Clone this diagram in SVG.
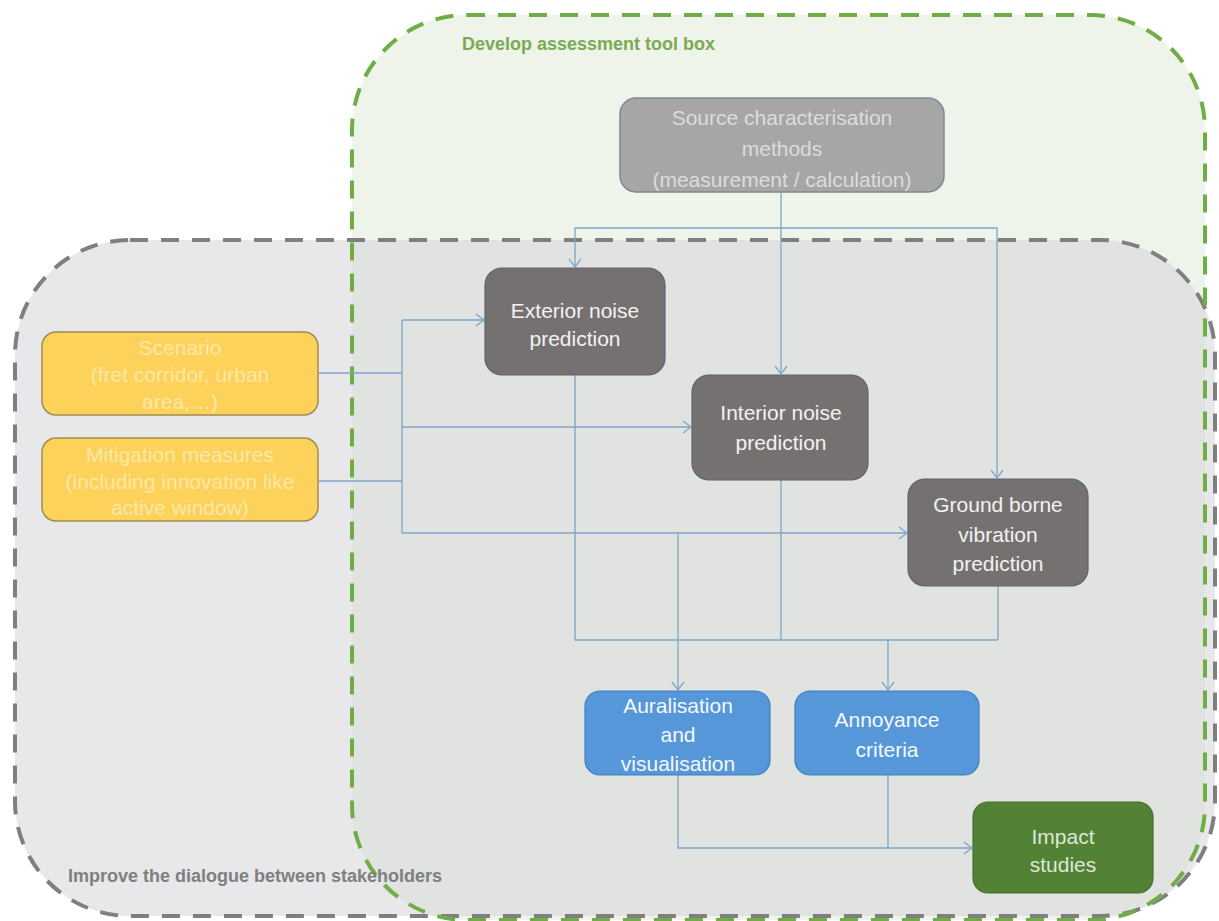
<svg xmlns="http://www.w3.org/2000/svg" width="1219" height="921" viewBox="0 0 1219 921">
<style>
.lbl{font-family:"Liberation Sans",Arial,sans-serif;font-size:21px;text-anchor:middle}
.ttl{font-family:"Liberation Sans",Arial,sans-serif;font-size:18px;font-weight:bold}
.con{fill:none;stroke:#7fa6ca;stroke-width:1.3}
</style>
<defs>
<marker id="arr" markerUnits="userSpaceOnUse" markerWidth="12" markerHeight="14" refX="9" refY="7" orient="auto">
<path d="M1,1 L9,7 L1,13" fill="none" stroke="#7fa6ca" stroke-width="1.3"/>
</marker>
</defs>
<rect width="1219" height="921" fill="#ffffff"/>
<g id="areas">
<rect x="352" y="15" width="853" height="905" rx="115" fill="#eef4ea"/>
<rect x="15" y="240" width="1200" height="676" rx="115" fill="#d1d1d5" fill-opacity="0.5"/>
<rect x="15" y="240" width="1200" height="676" rx="115" fill="none" stroke="#7f7f7f" stroke-width="4" stroke-dasharray="18 13"/>
<rect x="352" y="15" width="853" height="905" rx="115" fill="none" stroke="#70ad47" stroke-width="4" stroke-dasharray="18 13"/>
<text class="ttl" x="462" y="50" fill="#7aab52">Develop assessment tool box</text>
<text class="ttl" x="68" y="882" fill="#7f7f7f">Improve the dialogue between stakeholders</text>
</g>
<g id="connectors">
<path class="con" d="M781,193 V374" marker-end="url(#arr)"/>
<path class="con" d="M781,228 H575 V267" marker-end="url(#arr)"/>
<path class="con" d="M781,228 H997 V478" marker-end="url(#arr)"/>
<path class="con" d="M319,373 H402"/>
<path class="con" d="M319,481 H402"/>
<path class="con" d="M402,320 V533"/>
<path class="con" d="M402,320 H484" marker-end="url(#arr)"/>
<path class="con" d="M402,427 H691" marker-end="url(#arr)"/>
<path class="con" d="M402,533 H907" marker-end="url(#arr)"/>
<path class="con" d="M678,533 V690" marker-end="url(#arr)"/>
<path class="con" d="M575,375 V640 H998"/>
<path class="con" d="M781,480 V640"/>
<path class="con" d="M998,586 V640"/>
<path class="con" d="M888,640 V690" marker-end="url(#arr)"/>
<path class="con" d="M678,775 V848 H972" marker-end="url(#arr)"/>
<path class="con" d="M888,775 V848"/>
</g>
<g id="source">
<rect x="620" y="98" width="324" height="94" rx="16" fill="#a6a6a6" stroke="#7d8898" stroke-width="1.5"/>
<text class="lbl" x="782" y="125" fill="#dcdcdc">Source characterisation</text>
<text class="lbl" x="782" y="156" fill="#dcdcdc">methods</text>
<text class="lbl" x="782" y="187" fill="#dcdcdc">(measurement / calculation)</text>
</g>
<g id="scenario">
<rect x="42" y="332" width="276" height="83" rx="14" fill="#fdd25a" stroke="#a08c52" stroke-width="1.5"/>
<text class="lbl" x="180" y="355" fill="#fbe8a8">Scenario</text>
<text class="lbl" x="180" y="382" fill="#fbe8a8">(fret corridor, urban</text>
<text class="lbl" x="180" y="409" fill="#fbe8a8">area,…)</text>
</g>
<g id="mitigation">
<rect x="42" y="438" width="276" height="83" rx="14" fill="#fdd25a" stroke="#a08c52" stroke-width="1.5"/>
<text class="lbl" x="180" y="462" fill="#fbe8a8">Mitigation measures</text>
<text class="lbl" x="180" y="489" fill="#fbe8a8">(including innovation like</text>
<text class="lbl" x="180" y="515" fill="#fbe8a8">active window)</text>
</g>
<g id="exterior">
<rect x="485" y="268" width="180" height="107" rx="17" fill="#767171" stroke="#5e6470" stroke-width="1.2"/>
<text class="lbl" x="575" y="318" fill="#f2f2f2">Exterior noise</text>
<text class="lbl" x="575" y="346" fill="#f2f2f2">prediction</text>
</g>
<g id="interior">
<rect x="692" y="375" width="176" height="105" rx="17" fill="#767171" stroke="#5e6470" stroke-width="1.2"/>
<text class="lbl" x="781" y="420" fill="#f2f2f2">Interior noise</text>
<text class="lbl" x="781" y="450" fill="#f2f2f2">prediction</text>
</g>
<g id="ground">
<rect x="908" y="479" width="180" height="107" rx="17" fill="#767171" stroke="#5e6470" stroke-width="1.2"/>
<text class="lbl" x="998" y="512" fill="#f2f2f2">Ground borne</text>
<text class="lbl" x="998" y="542" fill="#f2f2f2">vibration</text>
<text class="lbl" x="998" y="571" fill="#f2f2f2">prediction</text>
</g>
<g id="auralisation">
<rect x="585" y="691" width="185" height="84" rx="15" fill="#5597d8" stroke="#3f7fc0" stroke-width="1.2"/>
<text class="lbl" x="678" y="713" fill="#f5f8fc">Auralisation</text>
<text class="lbl" x="678" y="742" fill="#f5f8fc">and</text>
<text class="lbl" x="678" y="771" fill="#f5f8fc">visualisation</text>
</g>
<g id="annoyance">
<rect x="795" y="691" width="184" height="84" rx="15" fill="#5597d8" stroke="#3f7fc0" stroke-width="1.2"/>
<text class="lbl" x="887" y="727" fill="#f5f8fc">Annoyance</text>
<text class="lbl" x="887" y="757" fill="#f5f8fc">criteria</text>
</g>
<g id="impact">
<rect x="973" y="802" width="180" height="91" rx="15" fill="#538135" stroke="#437028" stroke-width="1.2"/>
<text class="lbl" x="1063" y="844" fill="#dbe9d3">Impact</text>
<text class="lbl" x="1063" y="872" fill="#dbe9d3">studies</text>
</g>
</svg>
